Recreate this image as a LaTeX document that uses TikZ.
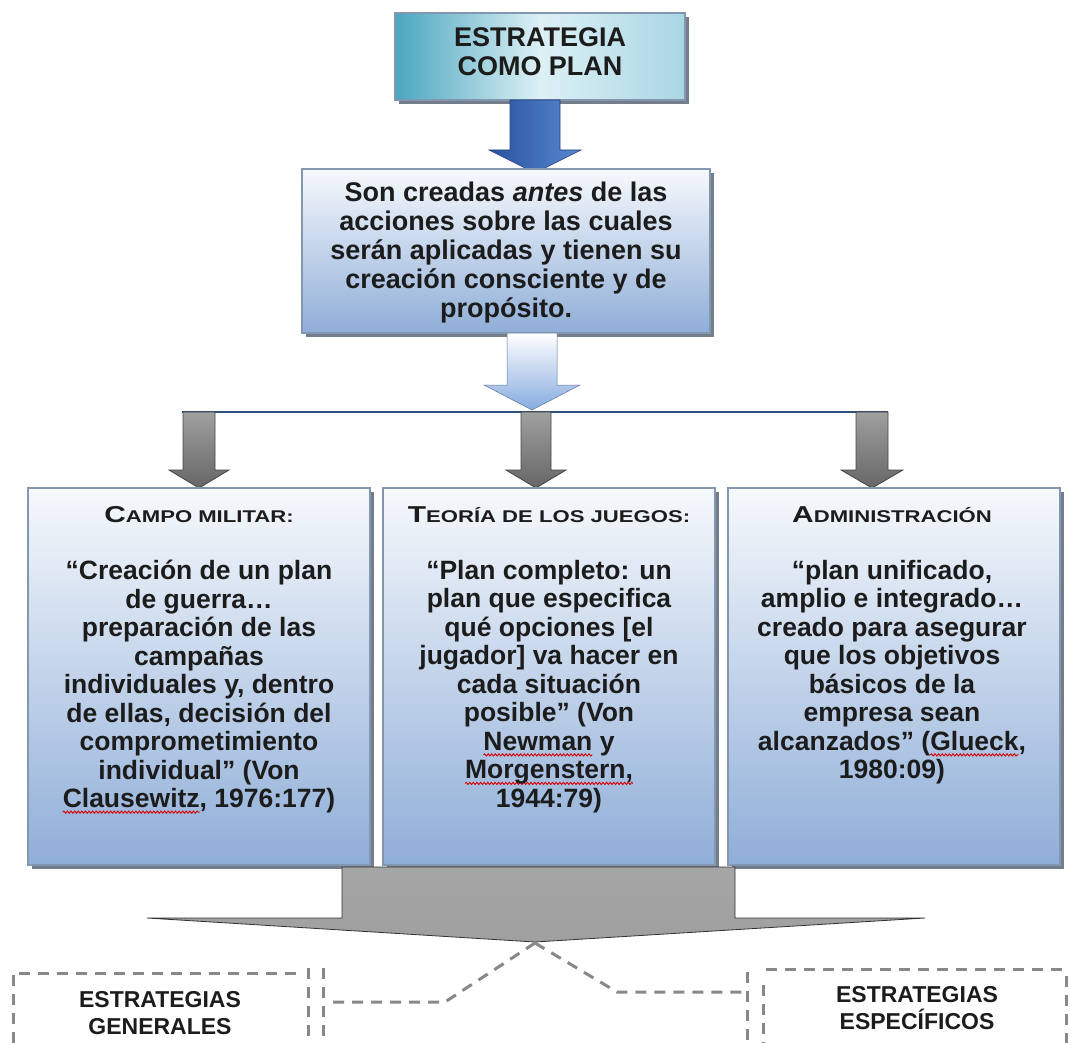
\documentclass[tikz,border=0pt]{standalone}
\usepackage{fontspec}
\setmainfont{Liberation Sans}
\usetikzlibrary{shadows,decorations.pathmorphing}

\definecolor{txt}{HTML}{1C1C1C}
\definecolor{boxtop}{HTML}{F6F9FC}
\definecolor{boxbot}{HTML}{8FAED8}
\definecolor{boxline}{HTML}{8397B0}
\definecolor{shadowc}{HTML}{5A6678}
\definecolor{tealL}{HTML}{4BA6BF}
\definecolor{tealM}{HTML}{DDF0F5}
\definecolor{tealR}{HTML}{A9D6E4}
\definecolor{navyA}{HTML}{28529F}
\definecolor{navyB}{HTML}{5A88D0}
\definecolor{paleB}{HTML}{86ABDF}
\definecolor{barc}{HTML}{2C4F7C}
\definecolor{dashc}{HTML}{888888}

% red spell-check squiggle under a word
\newsavebox\spellbox
\newcommand\spellmark[1]{\sbox\spellbox{#1}\tikz[overlay,baseline=0pt]\draw[red!85!black,line width=0.9pt,decorate,decoration={snake,amplitude=1.1pt,segment length=3.6pt}] (0pt,-4.5pt) -- (\wd\spellbox,-4.5pt);\usebox\spellbox}

% small-caps style heading: large initial, widened small capitals
\newcommand\sctitle[2]{\scalebox{1.3}[1]{{\fontsize{23}{26}\selectfont #1}{\fontsize{17}{26}\selectfont #2}}}

% block arrow pointing down: style, centre x, top, shaft half width, head half width, shoulder y, tip y
\newcommand\blkarrow[7]{\path[#1] (#2-#4,#3) -- (#2+#4,#3) -- (#2+#4,#6) -- (#2+#5,#6) -- (#2,#7) -- (#2-#5,#6) -- (#2-#4,#6) -- cycle;}

\begin{document}
\begin{tikzpicture}[x=1pt,y=-1pt,
  bluebox/.style={draw=boxline, line width=1.2pt, top color=boxtop, bottom color=boxbot,
    drop shadow={shadow xshift=4pt, shadow yshift=-4pt, fill=shadowc, opacity=0.85}, inner sep=0pt},
  bodytext/.style={text=txt, align=center, inner sep=0pt, font=\bfseries\fontsize{26.5}{28.5}\selectfont},
  titletext/.style={text=txt, align=center, inner sep=0pt, font=\bfseries},
  outtext/.style={text=txt, align=center, inner sep=0pt, font=\bfseries\fontsize{23}{27}\selectfont},
  dsh/.style={draw=dashc, line width=3pt, dash pattern=on 11pt off 8pt},
  grayarrow/.style={draw=gray!55!black, line width=0.8pt, top color=gray!75, middle color=gray!8, bottom color=gray!80!black}]
\useasboundingbox (0,0) rectangle (1070,1043);

% --- top heading box
\node[bluebox, left color=tealL, right color=tealR, middle color=tealM,
      minimum width=290pt, minimum height=87pt] (plan) at (540,56.5) {};
\node[text=txt, align=center, inner sep=0pt, font=\bfseries\fontsize{27}{29}\selectfont]
  (plantx) at (540,52) {ESTRATEGIA\\COMO PLAN};

% --- arrow into the definition box
\blkarrow{left color=navyA, right color=navyB, draw=navyA!80!black, line width=0.6pt}{535}{100}{25}{46}{150}{173}

% --- definition box
\node[bluebox, minimum width=408pt, minimum height=164pt] (def) at (506,251) {};
\node[bodytext, font=\bfseries\fontsize{27}{29}\selectfont] (deftx) at (506,253)
  {Son creadas \textit{antes} de las\\acciones sobre las cuales\\serán aplicadas y tienen su\\creación consciente y de\\propósito.};

% --- light arrow down to the branch bar
\blkarrow{top color=white, bottom color=paleB, draw=paleB!70!black, line width=0.5pt}{532}{333}{25}{48}{385}{410}

% --- branch bar
\coordinate (busL) at (182,412);
\coordinate (busR) at (888,412);
\draw[barc, line width=2.5pt] (busL) -- (busR);

% --- three gray arrows
\blkarrow{grayarrow}{199}{412}{16}{30}{470}{488}
\blkarrow{grayarrow}{536}{412}{15}{30}{470}{488}
\blkarrow{grayarrow}{872}{412}{16}{31}{470}{488}

% --- three quotation boxes
\node[bluebox, minimum width=342pt, minimum height=377pt] (mil) at (199,676.5) {};
\node[bluebox, minimum width=332pt, minimum height=377pt] (jue) at (549,676.5) {};
\node[bluebox, minimum width=332pt, minimum height=377pt] (adm) at (894,676.5) {};

\node[titletext] (miltt) at (199,515) {\sctitle{C}{AMPO MILITAR:}};
\node[titletext] (juett) at (549,515) {\sctitle{T}{EORÍA DE LOS JUEGOS:}};
\node[titletext] (admtt) at (892,515) {\sctitle{A}{DMINISTRACIÓN}};

\node[bodytext, anchor=north] (miltx) at (199,560)
  {“Creación de un plan\\de guerra…\\preparación de las\\campañas\\individuales y, dentro\\de ellas, decisión del\\comprometimiento\\individual” (Von\\\spellmark{Clausewitz}, 1976:177)};
\node[bodytext, anchor=north] (juetx) at (549,560)
  {“Plan completo: un\\plan que especifica\\qué opciones [el\\jugador] va hacer en\\cada situación\\posible” (Von\\\spellmark{Newman} y\\\spellmark{Morgenstern,}\\1944:79)};
\node[bodytext, anchor=north] (admtx) at (892,560)
  {“plan unificado,\\amplio e integrado…\\creado para asegurar\\que los objetivos\\básicos de la\\empresa sean\\alcanzados” (\spellmark{Glueck},\\1980:09)};

% --- wide gray arrow under the boxes
\path[draw=gray!40!black, line width=0.8pt, top color=gray!70, middle color=gray!20, bottom color=gray!75]
  (342,867) -- (735,867) -- (735,918) -- (925,918) -- (535,942) -- (147,918) -- (342,918) -- cycle;
\coordinate (tip) at (535,943);

% --- dashed outcome boxes and their links
\draw[dsh] (13,1043) -- (13,973) -- (298,973);
\draw[dsh] (308,968) -- (308,1043);
\draw[dsh] (323,968) -- (323,1043);
\draw[dsh] (747,972) -- (747,1043);
\draw[dsh] (763,985) -- (763,1043);
\draw[dsh] (766,969) -- (1070,969);
\draw[dsh] (1066,976) -- (1066,1043);

\coordinate (genlink) at (333,1002);
\coordinate (genbend) at (445,1002);
\coordinate (espbend) at (617,992);
\coordinate (esplink) at (742,992);
\draw[dsh] (genlink) -- (genbend) -- (tip);
\draw[dsh] (tip) -- (espbend) -- (esplink);

\node[outtext] (gen) at (160,1013) {ESTRATEGIAS\\GENERALES};
\node[outtext] (esp) at (917,1008) {ESTRATEGIAS\\ESPECÍFICOS};
\end{tikzpicture}
\end{document}
